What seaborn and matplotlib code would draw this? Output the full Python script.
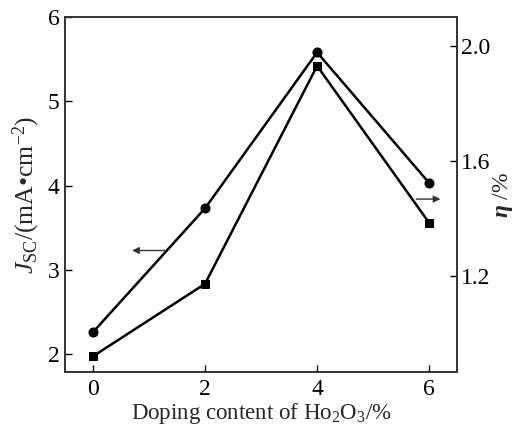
import matplotlib
matplotlib.use("Agg")
import matplotlib.pyplot as plt
import seaborn as sns
import pandas as pd

doping = [0, 2, 4, 6]
jsc = [2.26, 3.73, 5.58, 4.03]
eta = [0.92, 1.172, 1.93, 1.384]
x_ticks = [0, 2, 4, 6]
left_ticks = [2, 3, 4, 5, 6]
right_ticks = [1.2, 1.6, 2.0]

sns.set_theme(style="ticks")
plt.rcParams['font.family'] = ['Liberation Serif', 'DejaVu Serif']
plt.rcParams['mathtext.fontset'] = 'custom'
plt.rcParams['mathtext.rm'] = 'Liberation Serif'
plt.rcParams['mathtext.it'] = 'Liberation Serif:italic'
plt.rcParams['mathtext.bf'] = 'Liberation Serif:bold'
plt.rcParams['mathtext.bfit'] = 'Liberation Serif:bold:italic'

df = pd.DataFrame({"doping": doping, "jsc": jsc, "eta": eta})

fig = plt.figure(figsize=(5.19, 4.25), dpi=100)
ax = fig.add_axes([0.125, 0.125, 0.756, 0.835])
ax2 = ax.twinx()

sns.lineplot(data=df, x="doping", y="jsc", ax=ax, color="black", lw=1.8,
             marker="o", markersize=6.5, markeredgecolor="black")
sns.lineplot(data=df, x="doping", y="eta", ax=ax2, color="black", lw=1.8,
             marker="s", markersize=6, markeredgecolor="black")

ax.set_xlim(-0.5, 6.5)
ax.set_ylim(1.79, 6.0)
ax2.set_ylim(0.866, 2.10)
ax.set_xticks(x_ticks)
ax.set_yticks(left_ticks)
ax2.set_yticks(right_ticks)
ax2.set_yticklabels([f"{v:.1f}" for v in right_ticks])

fs_tick = 17
for a in (ax, ax2):
    a.tick_params(direction="in", length=5, width=1, labelsize=fs_tick, colors="black")
    for s in a.spines.values():
        s.set_visible(True)
        s.set_linewidth(1.2)
        s.set_color("#333333")
ax.tick_params(axis="x", pad=5)
ax.tick_params(axis="y", pad=4)
ax2.tick_params(axis="y", pad=3)

ax.set_xlabel("Doping content of Ho$_2$O$_3$/%", fontsize=16.5, labelpad=1)
ax.set_ylabel("$J_{\\rm SC}$/(mA\u2022cm$^{-2}$)", fontsize=18.5, labelpad=4)
ax2.set_ylabel("$\\boldsymbol{\\eta}$ /%", fontsize=17, rotation=90, labelpad=0)

# arrows indicating axes
ax.annotate("", xy=(0.65, 3.23), xytext=(1.34, 3.23),
            arrowprops=dict(arrowstyle="-|>", color="#333333", lw=1, mutation_scale=10))
ax.annotate("", xy=(6.25, 3.84), xytext=(5.72, 3.84),
            arrowprops=dict(arrowstyle="-|>", color="#333333", lw=1, mutation_scale=10))

fig.savefig("out.png", dpi=100)
